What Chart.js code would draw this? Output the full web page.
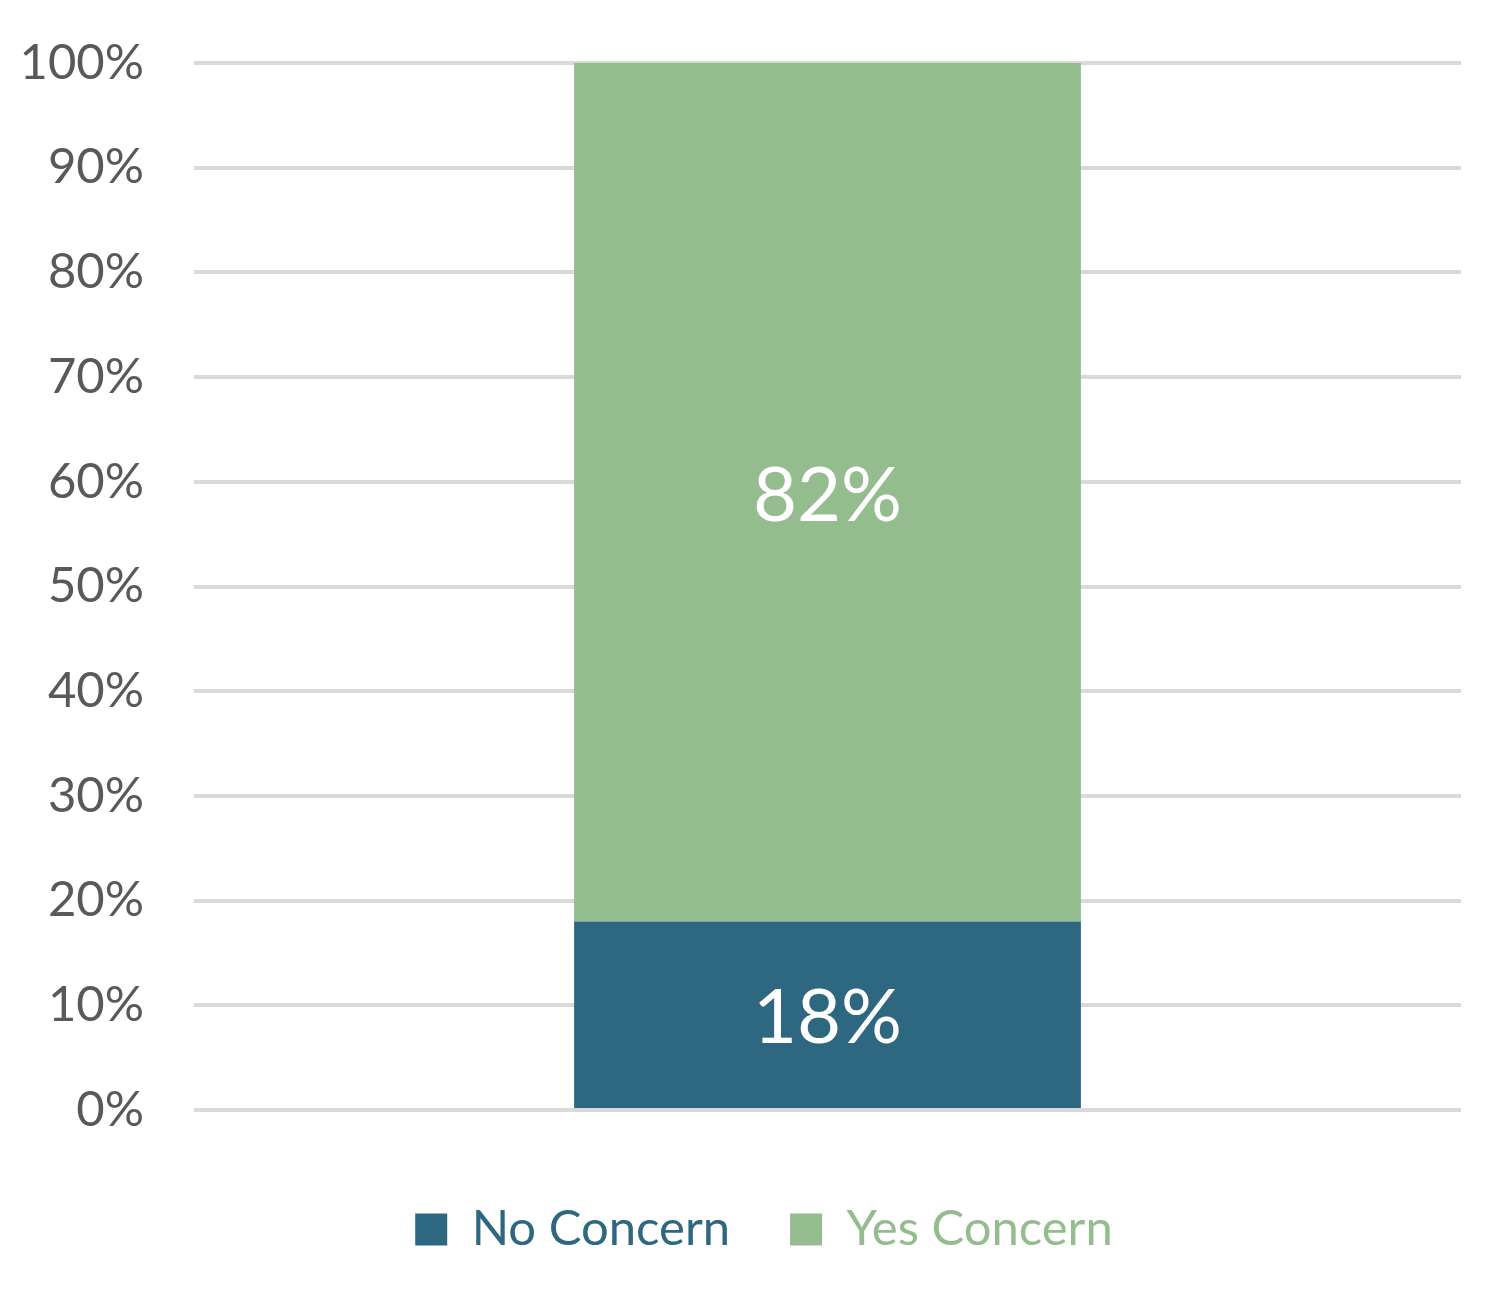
<!DOCTYPE html>
<html>
<head>
<meta charset="utf-8">
<script src="https://cdn.jsdelivr.net/npm/chart.js@4"></script>
<style>
  html, body { margin: 0; padding: 0; background: #fff; }
  #wrap { width: 1496px; height: 1298px; }
</style>
</head>
<body>
<div id="wrap"><canvas id="concernChart" width="1496" height="1298"></canvas></div>
<script>
var categories = [""];
var seriesNames = ["No Concern", "Yes Concern"];
var noConcern = [18];
var yesConcern = [82];
var seriesColors = ["#2E6880", "#94BC8E"];

var FONT = "Lato, 'Open Sans', sans-serif";

// white percentage labels in the middle of each segment
var segmentLabels = {
  id: 'segmentLabels',
  afterDatasetsDraw: function (chart) {
    var ctx = chart.ctx;
    ctx.save();
    ctx.fillStyle = '#ffffff';
    ctx.font = '76px ' + FONT;
    ctx.textAlign = 'center';
    ctx.textBaseline = 'middle';
    chart.data.datasets.forEach(function (ds, i) {
      chart.getDatasetMeta(i).data.forEach(function (bar, j) {
        var mid = (bar.y + bar.base) / 2;
        ctx.fillText(ds.data[j] + '%', bar.x, mid + 4);
      });
    });
    ctx.restore();
  }
};

// legend sits a bit right of the canvas centre in the original
var legendShift = {
  id: 'legendShift',
  afterLayout: function (chart) {
    if (chart.legend) {
      chart.legend.left = 67;
    }
  }
};

new Chart(document.getElementById('concernChart'), {
  type: 'bar',
  data: {
    labels: categories,
    datasets: [{
      label: seriesNames[0],
      data: noConcern,
      backgroundColor: seriesColors[0]
    }, {
      label: seriesNames[1],
      data: yesConcern,
      backgroundColor: seriesColors[1]
    }]
  },
  options: {
    responsive: false,
    animation: false,
    categoryPercentage: 1,
    barPercentage: 0.4,
    layout: { padding: { top: 63, right: 35, bottom: 34, left: 0 } },
    scales: {
      x: {
        stacked: true,
        grid: { display: false },
        border: { display: false },
        ticks: { display: false },
        afterFit: function (scale) { scale.height = 35; }
      },
      y: {
        stacked: true,
        min: 0,
        max: 100,
        grid: { color: '#D9D9D9', lineWidth: 4, drawTicks: false },
        border: { display: false },
        ticks: {
          stepSize: 10,
          padding: 50,
          color: '#595959',
          font: { family: FONT, size: 49 },
          callback: function (v) { return v + '%'; }
        },
        afterFit: function (scale) {
          scale.width = 194;
          scale.paddingTop = 0;
          scale.paddingBottom = 0;
        }
      }
    },
    plugins: {
      tooltip: { enabled: false },
      legend: {
        position: 'bottom',
        labels: {
          boxWidth: 32,
          boxHeight: 32,
          padding: 60,
          font: { family: FONT, size: 49 },
          generateLabels: function (chart) {
            return chart.data.datasets.map(function (ds, i) {
              return {
                text: ds.label,
                fillStyle: ds.backgroundColor,
                strokeStyle: ds.backgroundColor,
                lineWidth: 0,
                fontColor: ds.backgroundColor,
                datasetIndex: i
              };
            });
          }
        }
      }
    }
  },
  plugins: [segmentLabels, legendShift]
});
</script>
</body>
</html>
